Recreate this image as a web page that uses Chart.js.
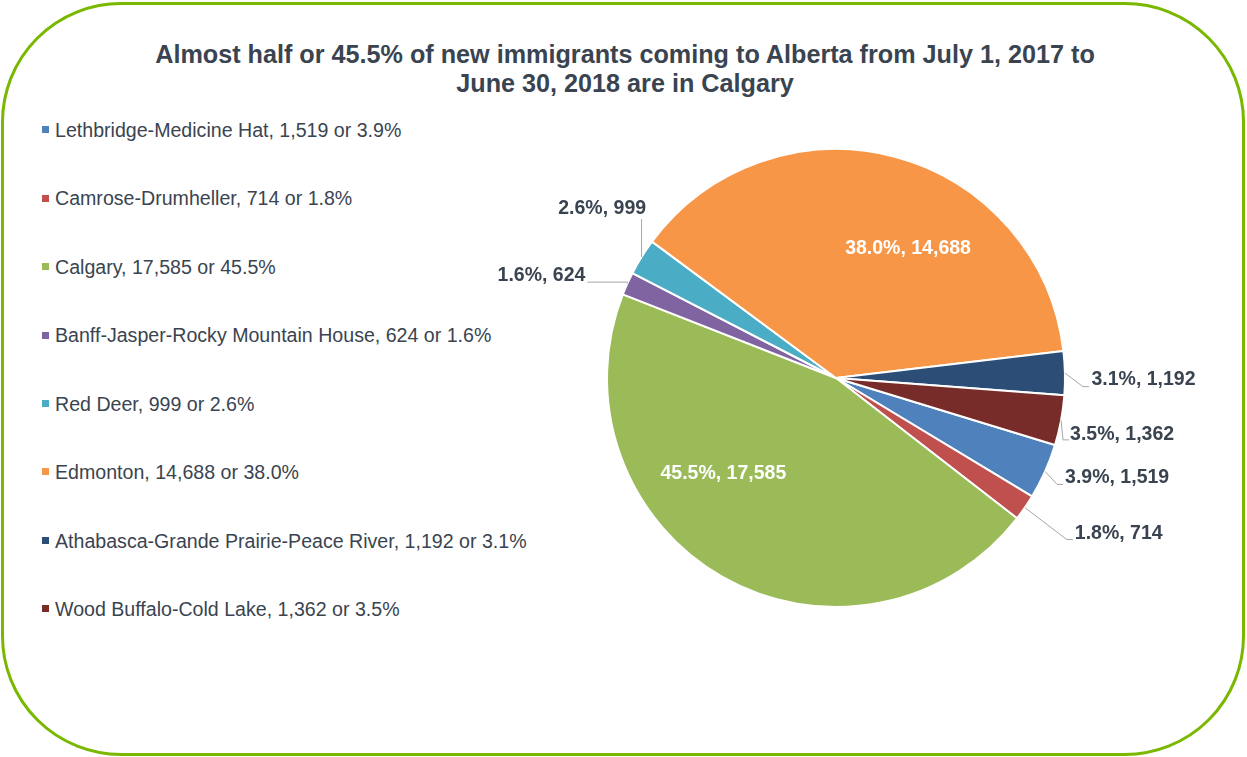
<!DOCTYPE html>
<html>
<head>
<meta charset="utf-8">
<title>New immigrants to Alberta by region, 2017-2018</title>
<script src="https://cdn.jsdelivr.net/npm/chart.js@4.4.1/dist/chart.umd.min.js"></script>
<style>
  html, body { margin: 0; padding: 0; background: #ffffff; }
  body { width: 1247px; height: 757px; position: relative; overflow: hidden;
         font-family: "Liberation Sans", Arial, sans-serif; color: #3a4450; }
  #frame { position: absolute; left: 1px; top: 2px; width: 1244px; height: 754px;
           box-sizing: border-box; border: 3px solid #7ab800; border-radius: 120px; }
  #title { position: absolute; left: 0; top: 40px; width: 1250px; text-align: center;
           font-weight: bold; font-size: 25.2px; line-height: 29px; color: #3a4450; }
  #legend { position: absolute; left: 0; top: 0; }
  .item { position: absolute; left: 42px; height: 24px; line-height: 24px;
          font-size: 19.6px; white-space: nowrap; color: #3a4450; }
  .swatch { display: inline-block; width: 7px; height: 7px; margin-right: 6px;
            vertical-align: middle; position: relative; top: -2px; }
  canvas { position: absolute; left: 0; top: 0; }
</style>
</head>
<body>
<div id="frame"></div>
<div id="title"></div>
<div id="legend"></div>
<canvas id="pie" width="1247" height="757"></canvas>
<script>
// Economic regions of Alberta
const regions = [
  'Lethbridge-Medicine Hat',
  'Camrose-Drumheller',
  'Calgary',
  'Banff-Jasper-Rocky Mountain House',
  'Red Deer',
  'Edmonton',
  'Athabasca-Grande Prairie-Peace River',
  'Wood Buffalo-Cold Lake'
];
// New immigrants, July 1, 2017 to June 30, 2018
const immigrants = [1519, 714, 17585, 624, 999, 14688, 1192, 1362];
const sliceColors = ['#4f81bd', '#c0504d', '#9bbb59', '#8064a2', '#4bacc6', '#f79646', '#2c4d75', '#772c2a'];
const titleLines = [
  'Almost half or 45.5% of new immigrants coming to Alberta from July 1, 2017 to',
  'June 30, 2018 are in Calgary'
];

const total = immigrants.reduce((a, b) => a + b, 0);
const pct = v => (v / total * 100).toFixed(1);
const fmt = v => v.toLocaleString('en-US');

// Title
document.getElementById('title').innerHTML = titleLines.join('<br>');

// Legend, one row per region
const legend = document.getElementById('legend');
regions.forEach((name, i) => {
  const row = document.createElement('div');
  row.className = 'item';
  row.style.top = (130 + i * 68.43 - 12) + 'px';
  const sw = document.createElement('span');
  sw.className = 'swatch';
  sw.style.background = sliceColors[i];
  row.appendChild(sw);
  row.appendChild(document.createTextNode(name + ', ' + fmt(immigrants[i]) + ' or ' + pct(immigrants[i]) + '%'));
  legend.appendChild(row);
});

// Where each slice's label goes: inside the slice, or outside with a leader line
// (offsets in px from the slice's outer midpoint).
const labelPlacement = [
  { side: 'out', elbow: [12, 13],   end: [18, 13],   text: [20, 6],    align: 'left' },
  { side: 'out', elbow: [42, 32],   end: [48, 32],   text: [50, 26],   align: 'left' },
  { side: 'in',  r: 0.645, turn: 20.1 },
  { side: 'out', elbow: [0, -1.5],  end: [-40, -1.5], text: [-42, -7.5], align: 'right' },
  { side: 'out', elbow: [0, -38],   end: [0, -38],   text: [4.5, -48], align: 'right' },
  { side: 'in',  r: 0.645, turn: 14.3 },
  { side: 'out', elbow: [18, 13.5], end: [24, 13.5], text: [26.5, 7],  align: 'left' },
  { side: 'out', elbow: [2, 19.5],  end: [8, 19.5],  text: [9, 14.5],  align: 'left' }
];

const sliceLabels = {
  id: 'sliceLabels',
  afterDatasetsDraw(chart) {
    const ctx = chart.ctx;
    const meta = chart.getDatasetMeta(0);
    const values = chart.data.datasets[0].data;
    ctx.save();
    ctx.font = 'bold 19.5px "Liberation Sans", Arial, sans-serif';
    ctx.textBaseline = 'middle';
    meta.data.forEach((arc, i) => {
      const p = arc.getProps(['x', 'y', 'startAngle', 'endAngle', 'outerRadius'], true);
      const mid = (p.startAngle + p.endAngle) / 2;
      const text = pct(values[i]) + '%, ' + fmt(values[i]);
      const cfg = labelPlacement[i];
      if (cfg.side === 'in') {
        const a = mid + cfg.turn * Math.PI / 180;
        const rr = p.outerRadius * cfg.r;
        ctx.fillStyle = '#ffffff';
        ctx.textAlign = 'center';
        ctx.fillText(text, p.x + Math.cos(a) * rr, p.y + Math.sin(a) * rr);
      } else {
        const ex = p.x + Math.cos(mid) * p.outerRadius;
        const ey = p.y + Math.sin(mid) * p.outerRadius;
        ctx.strokeStyle = '#a6a6a6';
        ctx.lineWidth = 1;
        ctx.beginPath();
        ctx.moveTo(ex, ey);
        ctx.lineTo(ex + cfg.elbow[0], ey + cfg.elbow[1]);
        ctx.lineTo(ex + cfg.end[0], ey + cfg.end[1]);
        ctx.stroke();
        ctx.fillStyle = '#3a4450';
        ctx.textAlign = cfg.align;
        ctx.fillText(text, ex + cfg.text[0], ey + cfg.text[1]);
      }
    });
    ctx.restore();
  }
};

new Chart(document.getElementById('pie'), {
  type: 'pie',
  data: {
    labels: regions,
    datasets: [{
      data: immigrants,
      backgroundColor: sliceColors,
      borderColor: '#ffffff',
      borderWidth: 2
    }]
  },
  options: {
    responsive: false,
    devicePixelRatio: 1,
    animation: false,
    rotation: 107,
    layout: { padding: { left: 606, right: 181, top: 148, bottom: 149 } },
    plugins: {
      legend: { display: false },
      title: { display: false },
      tooltip: { enabled: false }
    }
  },
  plugins: [sliceLabels]
});
</script>
</body>
</html>
